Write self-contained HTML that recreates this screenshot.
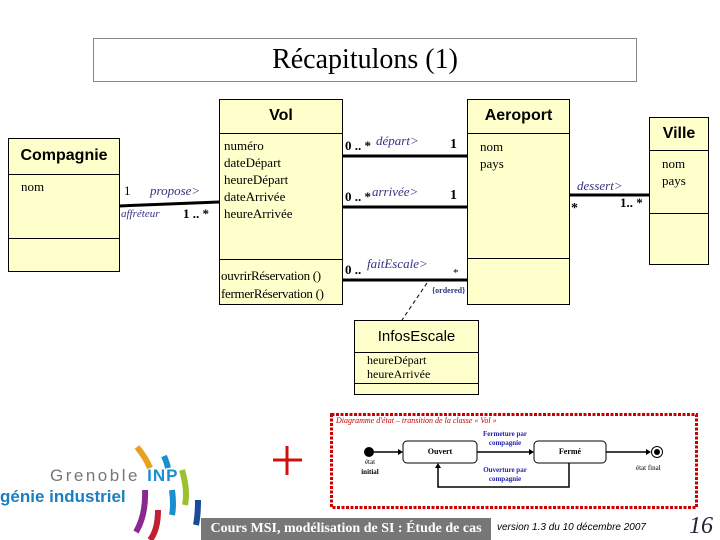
<!DOCTYPE html>
<html><head><meta charset="utf-8"><style>
body{margin:0;width:720px;height:540px;background:#fff;position:relative;overflow:hidden;font-family:"Liberation Serif",serif}
.a{position:absolute}
.box{position:absolute;background:#ffffcc;border:1px solid #000;box-sizing:border-box}
.h{position:absolute;left:0;right:0;border-top:1px solid #000}
.s{font-family:"Liberation Sans",sans-serif}
.t{font-size:13px;line-height:16px}
.bl{color:#333380;font-style:italic}
</style></head><body>
<div class="a" style="left:93px;top:38px;width:544px;height:44px;border:1px solid #888;box-sizing:border-box;text-align:center;font-size:28px;line-height:42px">Récapitulons (1)</div>

<!-- Compagnie -->
<div class="box" style="left:8px;top:138px;width:112px;height:134px">
 <div class="a s" style="left:0;right:0;top:8px;text-align:center;font-size:16px;font-weight:bold">Compagnie</div>
 <div class="h" style="top:35px"></div><div class="h" style="top:99px"></div>
 <div class="a t" style="left:12px;top:40px">nom</div>
</div>
<!-- Vol -->
<div class="box" style="left:219px;top:99px;width:124px;height:206px">
 <div class="a s" style="left:0;right:0;top:7px;text-align:center;font-size:16px;font-weight:bold">Vol</div>
 <div class="h" style="top:33px"></div><div class="h" style="top:159px"></div>
 <div class="a t" style="left:4px;top:37px;line-height:17px">numéro<br>dateDépart<br>heureDépart<br>dateArrivée<br>heureArrivée</div>
 <div class="a t" style="left:1px;top:167px;line-height:18px;white-space:nowrap;letter-spacing:-0.3px">ouvrirRéservation ()<br>fermerRéservation ()</div>
</div>
<!-- Aeroport -->
<div class="box" style="left:467px;top:99px;width:103px;height:206px">
 <div class="a s" style="left:0;right:0;top:7px;text-align:center;font-size:16px;font-weight:bold">Aeroport</div>
 <div class="h" style="top:33px"></div><div class="h" style="top:158px"></div>
 <div class="a t" style="left:12px;top:38px;line-height:17px">nom<br>pays</div>
</div>
<!-- Ville -->
<div class="box" style="left:649px;top:117px;width:60px;height:148px">
 <div class="a s" style="left:0;right:0;top:7px;text-align:center;font-size:16px;font-weight:bold">Ville</div>
 <div class="h" style="top:32px"></div><div class="h" style="top:95px"></div>
 <div class="a t" style="left:12px;top:37px;line-height:17px">nom<br>pays</div>
</div>
<!-- InfosEscale -->
<div class="box" style="left:354px;top:320px;width:125px;height:75px">
 <div class="a s" style="left:0;right:0;top:7px;text-align:center;font-size:15px">InfosEscale</div>
 <div class="h" style="top:31px"></div><div class="h" style="top:62px"></div>
 <div class="a" style="left:12px;top:32px;font-size:12px;line-height:14px">heureDépart<br>heureArrivée</div>
</div>

<svg class="a" style="left:0;top:0" width="720" height="540">
 <g stroke="#000" stroke-width="3">
  <line x1="119" y1="206" x2="219" y2="202"/>
  <line x1="342" y1="156" x2="467" y2="156"/>
  <line x1="342" y1="207" x2="467" y2="207"/>
  <line x1="342" y1="280" x2="467" y2="280"/>
  <line x1="569" y1="195" x2="649" y2="195"/>
 </g>
 <line x1="427" y1="283" x2="402" y2="320" stroke="#000" stroke-dasharray="4,3"/>
 <rect x="331.5" y="414.5" width="365" height="93" fill="none" stroke="#c00" stroke-width="3" stroke-dasharray="3,1.5"/>
 <circle cx="369" cy="452" r="5"/>
 <line x1="374" y1="452" x2="400" y2="452" stroke="#000" stroke-width="1.5"/><path d="M403 452l-5-3v6z"/>
 <rect x="403" y="441" width="74" height="22" rx="4" fill="#fff" stroke="#000"/>
 <rect x="534" y="441" width="72" height="22" rx="4" fill="#fff" stroke="#000"/>
 <line x1="477" y1="452" x2="531" y2="452" stroke="#000" stroke-width="1.5"/><path d="M534 452l-5-3v6z"/>
 <line x1="606" y1="452" x2="648" y2="452" stroke="#000" stroke-width="1.5"/><path d="M651 452l-5-3v6z"/>
 <circle cx="657" cy="452" r="5.5" fill="none" stroke="#000"/><circle cx="657" cy="452" r="3"/>
 <polyline points="569,463 569,487 438,487 438,467" fill="none" stroke="#000" stroke-width="1.5"/><path d="M438 463l-3 5h6z"/>
 <g stroke="#d01010" stroke-width="3"><line x1="273" y1="460" x2="302" y2="460"/><line x1="287" y1="446" x2="287" y2="475"/></g>
 <g fill="none" stroke-width="6" stroke-linecap="butt">
  <path d="M137 447 Q146 458 150 468" stroke="#e8a020"/>
  <path d="M164 456 Q167 463 168 468" stroke="#1a8fd0"/>
  <path d="M182 470 Q188 490 185 505" stroke="#9cc030"/>
  <path d="M145 490 Q146 515 136 532" stroke="#8a2a90"/>
  <path d="M158 510 Q158 530 150 540" stroke="#c02030"/>
  <path d="M172 490 Q174 505 172 515" stroke="#1a8fd0"/>
  <path d="M198 500 Q198 515 196 525" stroke="#1a4a9a"/>
 </g>
</svg>

<div class="a t" style="left:124px;top:183px">1</div>
<div class="a t bl" style="left:150px;top:183px">propose&gt;</div>
<div class="a bl" style="left:121px;top:208px;font-size:11px">affréteur</div>
<div class="a" style="left:183px;top:206px;font-size:13px;font-weight:bold">1 .. *</div>
<div class="a" style="left:345px;top:138px;font-size:13px;font-weight:bold">0 .. *</div>
<div class="a bl" style="left:376px;top:133px;font-size:13px">départ&gt;</div>
<div class="a" style="left:450px;top:137px;font-size:14px;font-weight:bold">1</div>
<div class="a" style="left:345px;top:189px;font-size:13px;font-weight:bold">0 .. *</div>
<div class="a bl" style="left:372px;top:184px;font-size:13px">arrivée&gt;</div>
<div class="a" style="left:450px;top:188px;font-size:14px;font-weight:bold">1</div>
<div class="a" style="left:345px;top:262px;font-size:13px;font-weight:bold">0 ..</div>
<div class="a bl" style="left:367px;top:256px;font-size:13px">faitEscale&gt;</div>
<div class="a" style="left:453px;top:267px;font-size:11px">*</div>
<div class="a" style="left:432px;top:286px;font-size:8px;color:#333380;font-weight:bold">{ordered}</div>
<div class="a bl" style="left:577px;top:178px;font-size:13px">dessert&gt;</div>
<div class="a" style="left:571px;top:201px;font-size:14px;font-weight:bold">*</div>
<div class="a" style="left:620px;top:195px;font-size:13px;font-weight:bold">1.. *</div>

<div class="a" style="left:336px;top:416px;font-size:8px;font-style:italic;color:#c00">Diagramme d'état – transition de la classe « Vol »</div>
<div class="a" style="left:470px;top:430px;font-size:7px;color:#22a;font-weight:bold;text-align:center;line-height:9px;width:70px">Fermeture par compagnie</div>
<div class="a" style="left:470px;top:466px;font-size:7px;color:#22a;font-weight:bold;text-align:center;line-height:9px;width:70px">Ouverture par compagnie</div>
<div class="a" style="left:403px;top:447px;width:74px;text-align:center;font-size:8px;font-weight:bold">Ouvert</div>
<div class="a" style="left:534px;top:447px;width:72px;text-align:center;font-size:8px;font-weight:bold">Fermé</div>
<div class="a" style="left:358px;top:457px;font-size:7px;text-align:center;line-height:10px;width:24px">état<br><b>initial</b></div>
<div class="a" style="left:636px;top:464px;font-size:7px">état final</div>

<div class="a s" style="left:50px;top:466px;font-size:17px;color:#777;letter-spacing:2.5px">Grenoble <b style="color:#1a8fd0;letter-spacing:1px">INP</b></div>
<div class="a s" style="left:0;top:487px;font-size:17px;color:#1a7fc0;font-weight:bold">génie industriel</div>

<div class="a" style="left:201px;top:518px;width:290px;height:22px;background:#777;color:#fff;font-size:14px;line-height:22px;text-align:center;font-weight:bold">Cours MSI, modélisation de SI : Étude de cas</div>
<div class="a s" style="left:497px;top:522px;font-size:10px;font-style:italic">version 1.3 du 10 décembre 2007</div>
<div class="a" style="left:689px;top:513px;font-size:24px;font-style:italic;color:#223">16</div>
</body></html>
